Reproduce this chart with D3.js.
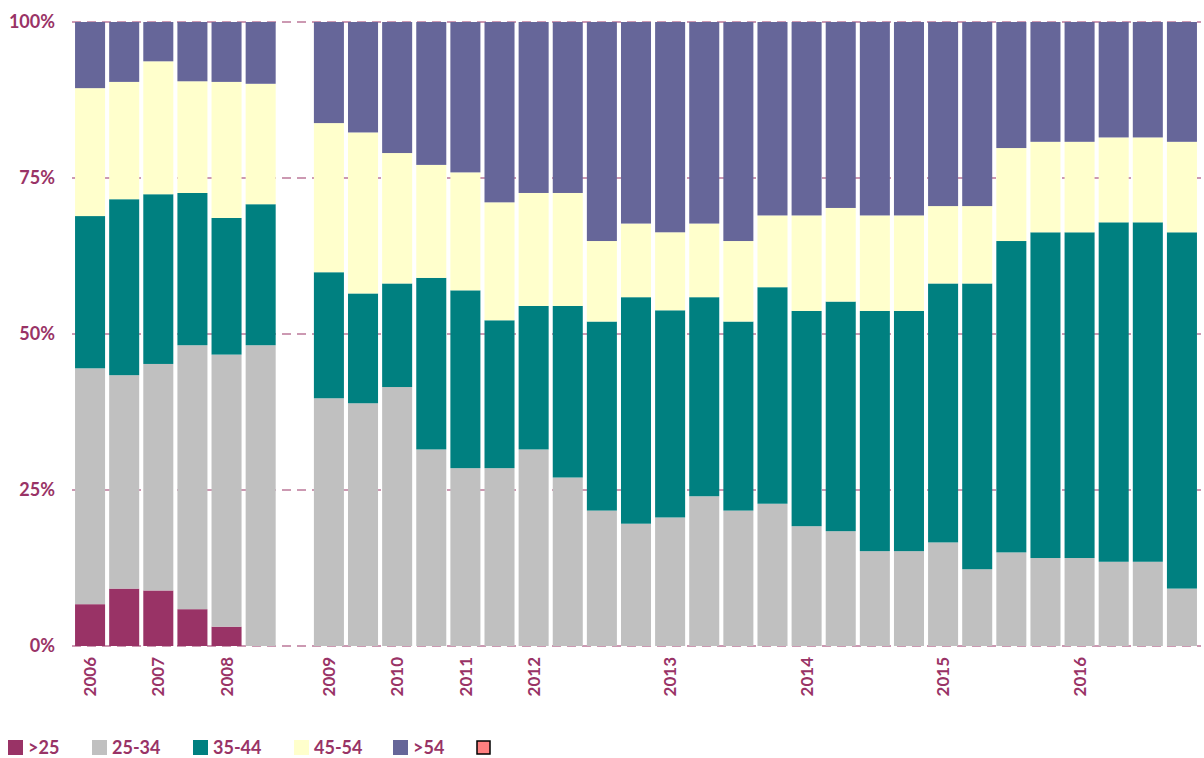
<!DOCTYPE html>
<html>
<head>
<meta charset="utf-8">
<script src="https://cdn.jsdelivr.net/npm/d3@7"></script>
<style>
  body { margin: 0; background: #fff; }
  text { font-family: Lato, "Open Sans", sans-serif; font-weight: bold; fill: #993366; }
</style>
</head>
<body>
<svg id="chart" width="1204" height="758"></svg>
<script>
// one slot per bar, "" = no label, slot 6 is the empty gap
var labels = ["2006","","2007","","2008","","",
  "2009","","2010","","2011","","2012","","","","2013","","","","2014","","","","2015","","","","2016","","",""];

var under25  = [6.7,9.2,8.9,5.9,3.1,0,null,
  0,0,0,0,0,0,0,0, 0,0,0,0,0,0,0,0, 0,0,0,0,0,0,0,0, 0,0];
var age25_34 = [37.8,34.2,36.3,42.3,43.6,48.2,null,
  39.7,38.9,41.5,31.5,28.5,28.5,31.5,27.0, 21.7,19.6,20.6,24.0,21.7,22.8,19.2,18.4,
  15.2,15.2,16.6,12.3,15.0,14.1,14.1,13.5, 13.5,9.2];
var age35_44 = [24.4,28.2,27.2,24.4,21.9,22.6,null,
  20.2,17.6,16.6,27.5,28.5,23.7,23.0,27.5, 30.3,36.3,33.2,31.9,30.3,34.7,34.5,36.8,
  38.5,38.5,41.5,45.8,49.9,52.2,52.2,54.4, 54.4,57.1];
var age45_54 = [20.5,18.8,21.3,17.9,21.8,19.3,null,
  23.9,25.8,20.9,18.1,18.9,18.9,18.1,18.1, 12.9,11.8,12.5,11.8,12.9,11.5,15.3,15.0,
  15.3,15.3,12.4,12.4,14.9,14.5,14.5,13.6, 13.6,14.5];
var over54   = [10.6,9.6,6.3,9.5,9.6,9.9,null,
  16.2,17.7,21.0,22.9,24.1,28.9,27.4,27.4, 35.1,32.3,33.7,32.3,35.1,31.0,31.0,29.8,
  31.0,31.0,29.5,29.5,20.2,19.2,19.2,18.5, 18.5,19.2];

var seriesNames = [">25", "25-34", "35-44", "45-54", ">54"];
var colors = ["#993366", "#c0c0c0", "#008080", "#ffffcc", "#666699"];
var yTicks = [0, 25, 50, 75, 100];

var rows = labels.map(function(l, i) {
  return {
    slot: i, label: l,
    ">25": under25[i] || 0, "25-34": age25_34[i] || 0, "35-44": age35_44[i] || 0,
    "45-54": age45_54[i] || 0, ">54": over54[i] || 0
  };
});

var svg = d3.select("#chart");

var x = d3.scaleBand()
  .domain(rows.map(function(d) { return d.slot; }))
  .range([73, 1199])
  .paddingInner(0.12)
  .paddingOuter(0.06);

var y = d3.scaleLinear().domain([0, 100]).range([646, 22]);

// dashed gridlines
svg.append("g")
  .selectAll("line")
  .data(yTicks)
  .enter()
  .append("line")
    .attr("x1", 72).attr("x2", 1201)
    .attr("y1", function(d) { return y(d); })
    .attr("y2", function(d) { return y(d); })
    .attr("stroke", "#993366")
    .attr("stroke-opacity", 0.5)
    .attr("stroke-width", 2)
    .attr("stroke-dasharray", "9,6");

// y labels
svg.append("g")
  .selectAll("text")
  .data(yTicks)
  .enter()
  .append("text")
    .attr("x", 55)
    .attr("y", function(d) { return y(d); })
    .attr("dy", "0.36em")
    .attr("text-anchor", "end")
    .style("font-size", "18px")
    .text(function(d) { return d + "%"; });

// stacked bars
var stacked = d3.stack().keys(seriesNames)(rows);

svg.append("g")
  .selectAll("g")
  .data(stacked)
  .enter()
  .append("g")
    .attr("fill", function(d, i) { return colors[i]; })
  .selectAll("rect")
  .data(function(d) { return d.filter(function(p) { return p[1] - p[0] > 0; }); })
  .enter()
  .append("rect")
    .attr("x", function(d) { return x(d.data.slot); })
    .attr("width", x.bandwidth())
    .attr("y", function(d) { return y(d[1]); })
    .attr("height", function(d) { return y(d[0]) - y(d[1]); });

// x labels, rotated
svg.append("g")
  .selectAll("text")
  .data(rows.filter(function(d) { return d.label !== ""; }))
  .enter()
  .append("text")
    .attr("transform", function(d) {
      return "translate(" + (x(d.slot) + x.bandwidth() / 2) + ",657) rotate(-90)";
    })
    .attr("dy", "0.36em")
    .attr("text-anchor", "end")
    .style("font-size", "17px")
    .text(function(d) { return d.label; });

// legend
var legendX = [8, 92, 193, 294, 393];
var legend = svg.append("g")
  .selectAll("g")
  .data(seriesNames)
  .enter()
  .append("g")
    .attr("transform", function(d, i) { return "translate(" + legendX[i] + ",740)"; });

legend.append("rect")
  .attr("width", 15).attr("height", 15)
  .attr("fill", function(d, i) { return colors[i]; });

legend.append("text")
  .attr("x", 20)
  .attr("y", 14)
  .style("font-size", "18px")
  .text(function(d) { return d; });

// empty legend entry
svg.append("rect")
  .attr("x", 477).attr("y", 741)
  .attr("width", 13).attr("height", 13)
  .attr("fill", "#ff8080")
  .attr("stroke", "#000")
  .attr("stroke-width", 1.5);
</script>
</body>
</html>
